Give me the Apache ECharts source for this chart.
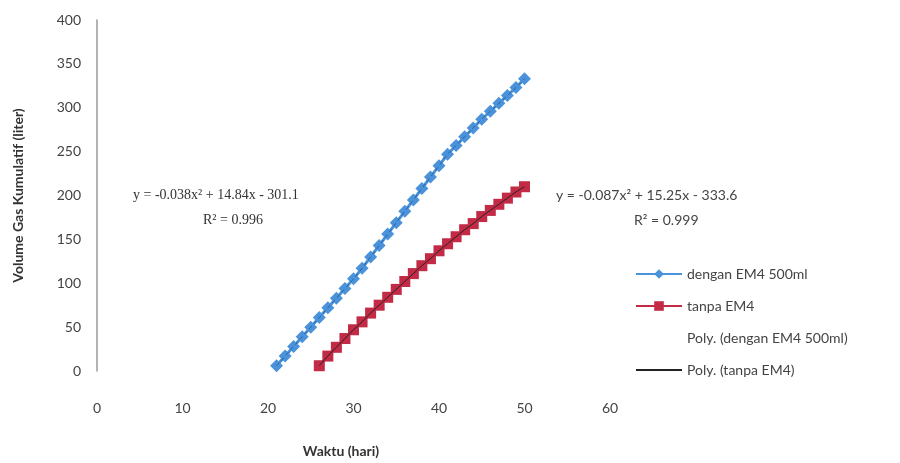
<!DOCTYPE html>
<html style="height: 100%">

<head>
    <meta charset="utf-8">
</head>

<body style="height: 100%; margin: 0; background: #fff">
    <div id="container" style="width: 900px; height: 463px"></div>
    <script type="text/javascript" src="https://cdn.jsdelivr.net/npm/echarts@6/dist/echarts.min.js"></script>
    <script type="text/javascript">
        // hari (days) and cumulative gas volume
        var hariDengan = [21, 22, 23, 24, 25, 26, 27, 28, 29, 30, 31, 32, 33, 34, 35,
            36, 37, 38, 39, 40, 41, 42, 43, 44, 45, 46, 47, 48, 49, 50];
        var volDengan = [6, 17, 28, 39, 50, 61, 72, 83, 94, 105, 117, 130, 143, 156, 169,
            182, 195, 208, 221, 234, 247, 257, 267, 277, 287, 296, 305, 314, 323, 333];

        var hariTanpa = [26, 27, 28, 29, 30, 31, 32, 33, 34, 35, 36, 37, 38,
            39, 40, 41, 42, 43, 44, 45, 46, 47, 48, 49, 50];
        var volTanpa = [6, 17, 27, 37, 47, 56, 66, 75, 84, 93, 102, 111, 120,
            128, 137, 145, 153, 161, 168, 176, 183, 190, 197, 204, 210];

        var xTicks = [0, 10, 20, 30, 40, 50, 60];
        var yTicks = [0, 50, 100, 150, 200, 250, 300, 350, 400];

        function pairs(xs, ys) {
            return xs.map(function (x, i) { return [x, ys[i]]; });
        }

        var dom = document.getElementById("container");
        var myChart = echarts.init(dom);
        var font = 'Lato, "Open Sans", sans-serif';

        var option = {
            backgroundColor: '#ffffff',
            animation: false,
            textStyle: { fontFamily: font },
            grid: { left: 97, right: 290, top: 20, bottom: 88 },
            xAxis: {
                type: 'value',
                min: xTicks[0],
                max: xTicks[xTicks.length - 1],
                interval: 10,
                name: 'Waktu (hari)',
                nameLocation: 'middle',
                nameGap: 73,
                nameTextStyle: { fontWeight: 'bold', fontSize: 14, color: '#333', padding: [0, 25, 0, 0] },
                axisLine: { show: false },
                axisTick: { show: false },
                splitLine: { show: false },
                axisLabel: { margin: 30, fontSize: 14, color: '#444' }
            },
            yAxis: {
                type: 'value',
                min: yTicks[0],
                max: yTicks[yTicks.length - 1],
                interval: 50,
                name: 'Volume Gas Kumulatif (liter)',
                nameLocation: 'middle',
                nameGap: 72,
                nameTextStyle: { fontWeight: 'bold', fontSize: 14, color: '#333' },
                axisLine: { show: true, lineStyle: { color: '#9a9a9a', width: 1.5 } },
                axisTick: { show: false },
                splitLine: { show: false },
                axisLabel: { margin: 16, fontSize: 14, color: '#444' }
            },
            legend: {
                orient: 'vertical',
                left: 630,
                top: 262,
                itemGap: 18,
                itemWidth: 46,
                itemHeight: 12,
                textStyle: { fontSize: 14, color: '#444' },
                data: [
                    { name: 'dengan EM4 500ml' },
                    { name: 'tanpa EM4' },
                    { name: 'Poly. (dengan EM4 500ml)', lineStyle: { opacity: 0 }, itemStyle: { opacity: 0 } },
                    { name: 'Poly. (tanpa EM4)', itemStyle: { opacity: 0 } }
                ]
            },
            series: [{
                name: 'dengan EM4 500ml',
                type: 'line',
                data: pairs(hariDengan, volDengan),
                symbol: 'diamond',
                symbolSize: 13,
                itemStyle: { color: '#4a93db' },
                lineStyle: { color: '#4a93db', width: 3 },
                z: 2
            }, {
                name: 'tanpa EM4',
                type: 'line',
                data: pairs(hariTanpa, volTanpa),
                symbol: 'rect',
                symbolSize: 11,
                itemStyle: { color: '#c22a45' },
                lineStyle: { color: '#c22a45', width: 3 },
                z: 2
            }, {
                name: 'Poly. (dengan EM4 500ml)',
                type: 'line',
                data: pairs(hariDengan, volDengan),
                smooth: true,
                symbol: 'none',
                lineStyle: { color: '#2b5f9e', width: 1, type: [4, 3] },
                itemStyle: { color: '#2b5f9e' },
                z: 3
            }, {
                name: 'Poly. (tanpa EM4)',
                type: 'line',
                data: pairs(hariTanpa, volTanpa),
                smooth: true,
                symbol: 'none',
                lineStyle: { color: '#222', width: 1 },
                itemStyle: { color: '#222' },
                z: 3
            }],
            graphic: [
                { type: 'text', left: 133, top: 188, style: { text: 'y = -0.038x² + 14.84x - 301.1', font: '14px "Liberation Serif", serif', fill: '#333' } },
                { type: 'text', left: 203, top: 213, style: { text: 'R² = 0.996', font: '14px "Liberation Serif", serif', fill: '#333' } },
                { type: 'text', left: 556, top: 188, style: { text: 'y = -0.087x² + 15.25x - 333.6', font: '14px ' + font, fill: '#444' } },
                { type: 'text', left: 634, top: 213, style: { text: 'R² = 0.999', font: '14px ' + font, fill: '#444' } }
            ]
        };

        myChart.setOption(option);
    </script>
</body>

</html>
